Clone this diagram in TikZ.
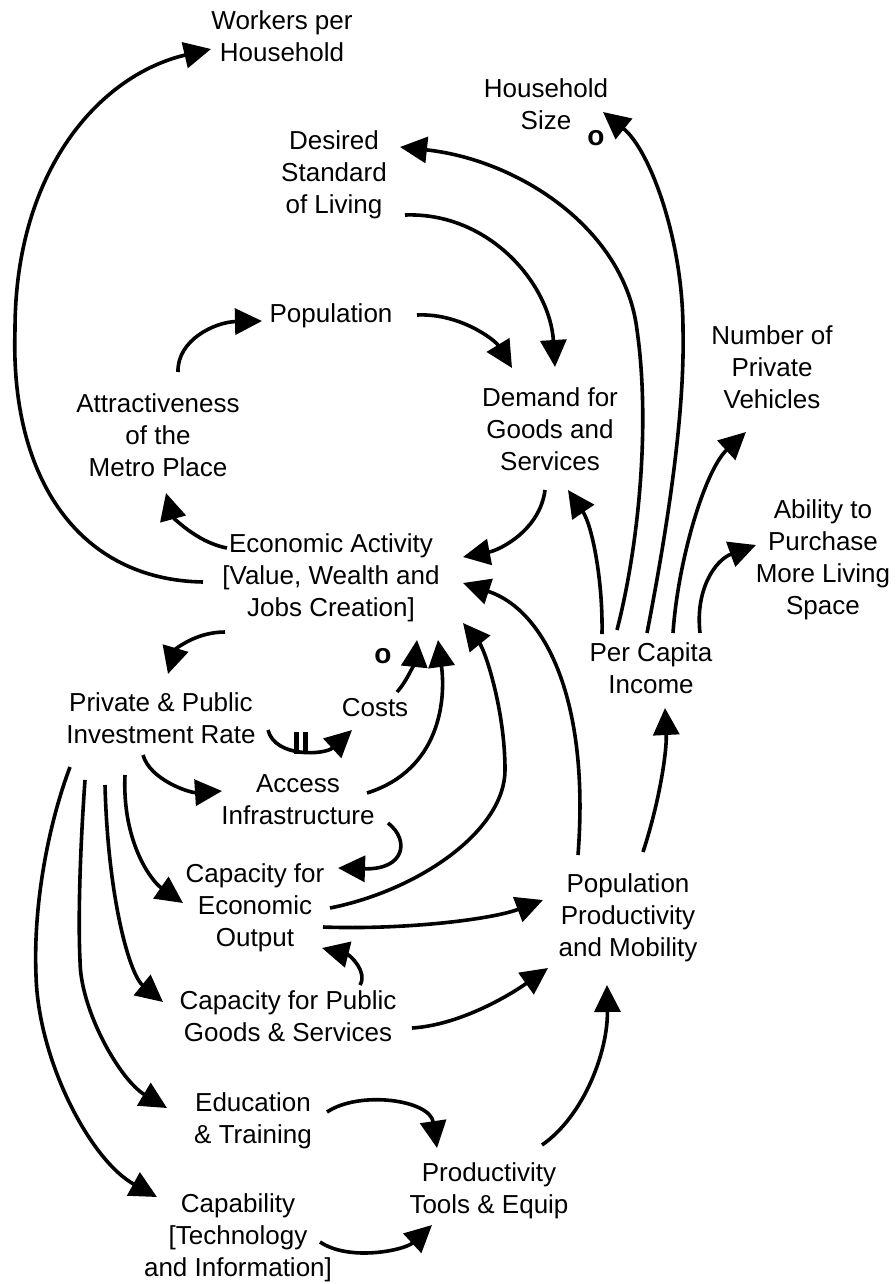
\documentclass[tikz,border=0pt]{standalone}
\usepackage{fontspec}
\setmainfont{Liberation Sans}
\usetikzlibrary{arrows.meta,calc}
\begin{document}
\begin{tikzpicture}[x=1pt,y=-1pt,
  lbl/.style={align=center,inner sep=0pt,font=\fontsize{26}{32}\selectfont},
  arr/.style={line width=3.6pt,-{Triangle[length=27pt,width=26pt]}},
  mk/.style={inner sep=0pt,font=\fontsize{28}{30}\selectfont\bfseries},
  bar/.style={line width=5pt}]
\useasboundingbox (0,0) rectangle (895,1284);
\fill[white] (0,0) rectangle (895,1284);
% nodes
\node[lbl] (workers) at (282,36) {Workers per\\Household};
\node[lbl] (hhsize) at (546,104) {Household\\Size};
\node[lbl] (desired) at (334,175) {Desired\\Standard\\of Living};
\node[lbl] (population) at (331,316) {Population};
\node[lbl] (vehicles) at (772,367) {Number of\\Private\\Vehicles};
\node[lbl] (attract) at (158,435) {Attractiveness\\of the\\Metro Place};
\node[lbl] (demand) at (550,429) {Demand for\\Goods and\\Services};
\node[lbl] (ability) at (823,560) {Ability to\\Purchase\\More Living\\Space};
\node[lbl] (econ) at (331,578) {Economic Activity\\{[Value, Wealth and}\\Jobs Creation]};
\node[lbl] (pci) at (651,668) {Per Capita\\Income};
\node[lbl] (invest) at (161,718) {Private \& Public\\Investment Rate};
\node[lbl] (costs) at (375,708) {Costs};
\node[lbl] (access) at (298,800) {Access\\Infrastructure};
\node[lbl] (capecon) at (255,908) {Capacity for\\Economic\\Output};
\node[lbl] (popprod) at (628,918) {Population\\Productivity\\and Mobility};
\node[lbl] (cappub) at (288,1016) {Capacity for Public\\Goods \& Services};
\node[lbl] (edu) at (253,1121) {Education\\\& Training};
\node[lbl] (tools) at (489,1191) {Productivity\\Tools \& Equip};
\node[lbl] (capab) at (238,1238) {Capability\\{[Technology}\\and Information]};
% markers
\node[mk] (o1) at (596,138) {o};
\node[mk] (o2) at (383,656) {o};
\coordinate (dl) at (300,743);
% connectors
\draw[arr] ($(econ)+(-128,4)$) .. controls (80,580) and (10,480) .. (15,330)
  .. controls (15,170) and (100,75) .. ($(workers)+(-71,13)$);
\draw[arr] ($(pci)+(-34,-38)$) .. controls (640,540) and (650,420) .. (637,330)
  .. controls (625,230) and (520,160) .. ($(desired)+(66,-28)$);
\draw[arr] ($(pci)+(-4,-35)$) .. controls (665,540) and (685,420) .. (683,330)
  .. controls (683,240) and (650,150) .. ($(hhsize)+(57,8)$);
\draw[arr] ($(pci)+(22,-35)$) .. controls (678,560) and (705,470) .. ($(vehicles)+(-26,65)$);
\draw[arr] ($(pci)+(49,-35)$) .. controls (695,590) and (715,560) .. ($(ability)+(-67,-15)$);
\draw[arr] ($(pci)+(-49,-34)$) .. controls (603,580) and (592,525) .. ($(demand)+(18,61)$);
\draw[arr] ($(demand)+(-5,61)$) .. controls (540,530) and (500,550) .. ($(econ)+(132,-21)$);
\draw[arr] ($(population)+(86,-1)$) .. controls (460,313) and (495,340) .. ($(demand)+(-38,-61)$);
\draw[arr] ($(desired)+(71,40)$) .. controls (490,212) and (550,285) .. ($(demand)+(5,-62)$);
\draw[arr] ($(attract)+(20,-63)$) .. controls (177,340) and (215,322) .. ($(population)+(-69,5)$);
\draw[arr] ($(econ)+(-104,-30)$) .. controls (195,542) and (172,515) .. ($(attract)+(8,58)$);
\draw[arr] ($(econ)+(-106,54)$) .. controls (195,632) and (175,650) .. ($(invest)+(7,-44)$);
\draw[arr] ($(invest)+(107,12)$) .. controls (275,758) and (325,755) .. ($(costs)+(-23,22)$);
\draw[bar] ($(dl)+(-4,-11)$) -- ($(dl)+(-4,11)$);
\draw[bar] ($(dl)+(5,-11)$) -- ($(dl)+(5,11)$);
\draw[arr] ($(costs)+(22,-16)$) .. controls (408,680) and (415,660) .. ($(econ)+(86,62)$);
\draw[arr] ($(access)+(69,-7)$) .. controls (440,770) and (446,700) .. ($(econ)+(107,62)$);
\draw[arr] ($(capecon)+(75,0)$) .. controls (420,890) and (505,830) .. (505,770)
  .. controls (505,710) and (485,650) .. ($(econ)+(132,45)$);
\draw[arr] ($(popprod)+(-50,-63)$) .. controls (590,700) and (545,610) .. ($(econ)+(132,5)$);
\draw[arr] ($(popprod)+(15,-66)$) .. controls (660,800) and (667,750) .. ($(pci)+(14,40)$);
\draw[arr] ($(invest)+(-18,37)$) .. controls (150,780) and (190,793) .. ($(access)+(-76,-9)$);
\draw[arr] ($(access)+(90,23)$) .. controls (410,840) and (405,870) .. ($(capecon)+(83,-40)$);
\draw[arr] ($(invest)+(-36,57)$) .. controls (122,840) and (150,880) .. ($(capecon)+(-72,-5)$);
\draw[arr] ($(invest)+(-56,67)$) .. controls (108,900) and (130,975) .. ($(cappub)+(-125,-14)$);
\draw[arr] ($(invest)+(-76,62)$) .. controls (80,850) and (78,920) .. (80,960)
  .. controls (80,1010) and (120,1080) .. ($(edu)+(-86,-13)$);
\draw[arr] ($(invest)+(-91,49)$) .. controls (50,820) and (33,900) .. (36,975)
  .. controls (38,1060) and (90,1160) .. ($(capab)+(-81,-41)$);
\draw[arr] ($(cappub)+(72,-31)$) .. controls (368,972) and (350,955) .. ($(capecon)+(67,40)$);
\draw[arr] ($(capecon)+(68,19)$) .. controls (400,930) and (490,920) .. ($(popprod)+(-85,-18)$);
\draw[arr] ($(cappub)+(124,12)$) .. controls (460,1025) and (510,995) .. ($(popprod)+(-80,50)$);
\draw[arr] ($(tools)+(53,-46)$) .. controls (585,1115) and (608,1050) .. ($(popprod)+(-21,67)$);
\draw[arr] ($(edu)+(74,-9)$) .. controls (360,1090) and (430,1100) .. ($(tools)+(-52,-43)$);
\draw[arr] ($(capab)+(82,4)$) .. controls (350,1262) and (405,1250) .. ($(tools)+(-57,34)$);
\end{tikzpicture}
\end{document}
